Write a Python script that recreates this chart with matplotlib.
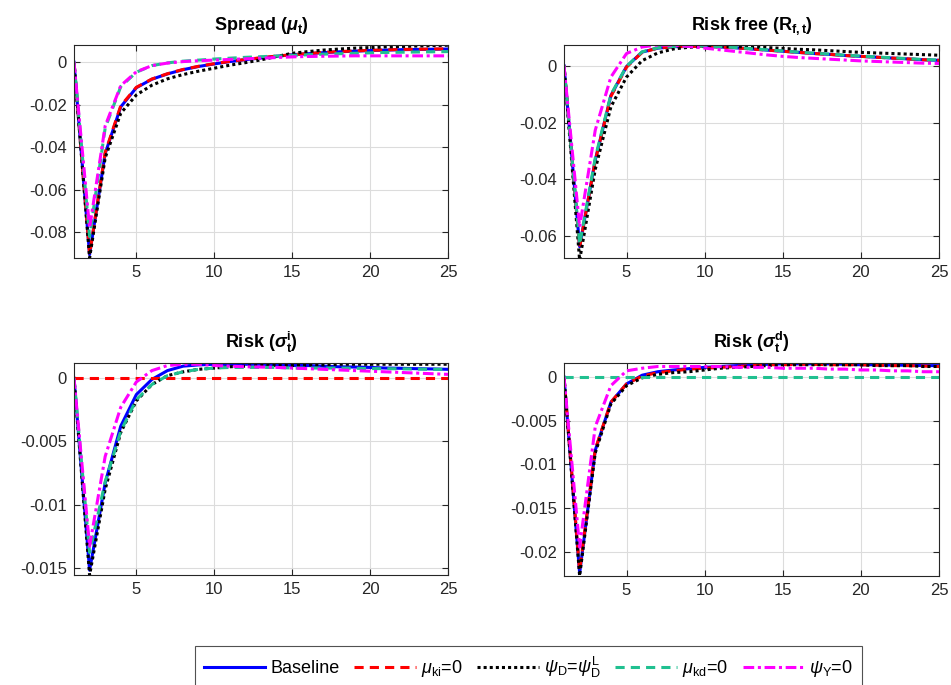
import matplotlib
matplotlib.use('Agg')
import matplotlib.pyplot as plt
import numpy as np

plt.rcParams['font.family'] = ['Liberation Sans', 'DejaVu Sans']
plt.rcParams['mathtext.fontset'] = 'custom'
plt.rcParams['mathtext.rm'] = 'Liberation Sans'
plt.rcParams['mathtext.it'] = 'Liberation Sans:italic'
plt.rcParams['mathtext.bf'] = 'Liberation Sans:bold'
plt.rcParams['mathtext.bfit'] = 'Liberation Sans:italic:bold'

periods = np.arange(1, 26)

labels = ['Baseline', r'$\mu_{\mathrm{ki}}$=0', r'$\psi_{\mathrm{D}}$=$\psi_{\mathrm{D}}^{\mathrm{L}}$',
          r'$\mu_{\mathrm{kd}}$=0', r'$\psi_{\mathrm{Y}}$=0']
titles = [r'Spread ($\mathbfit{\mu}_\mathbf{t}$)', r'Risk free ($\mathbf{R_{f,t}}$)',
          r'Risk ($\mathbfit{\sigma}_\mathbf{t}^\mathbf{i}$)', r'Risk ($\mathbfit{\sigma}_\mathbf{t}^\mathbf{d}$)']

# Spread (mu_t)
spread_base = [0, -0.0905, -0.043, -0.021, -0.012, -0.008, -0.0055, -0.0035, -0.002, -0.0008,
               0.0003, 0.0012, 0.002, 0.0028, 0.0035, 0.004, 0.0045, 0.0049, 0.0052, 0.0055,
               0.0057, 0.0059, 0.006, 0.0061, 0.0062]
spread_muki = [0, -0.0905, -0.0425, -0.0205, -0.0118, -0.0079, -0.0054, -0.0034, -0.0019, -0.0007,
               0.0004, 0.0013, 0.0021, 0.0029, 0.0035, 0.0041, 0.0046, 0.005, 0.0053, 0.0056,
               0.0058, 0.006, 0.0061, 0.0062, 0.0063]
spread_psid = [0, -0.0921, -0.045, -0.024, -0.0154, -0.0108, -0.0078, -0.0058, -0.0042, -0.0028,
               -0.0014, -0.0002, 0.0011, 0.0027, 0.0042, 0.005, 0.0057, 0.0062, 0.0066, 0.0069,
               0.0072, 0.0074, 0.0076, 0.0078, 0.008]
spread_mukd = [0, -0.082, -0.031, -0.0115, -0.0047, -0.0016, -0.0003, 0.0005, 0.001, 0.0015,
               0.0019, 0.0023, 0.0026, 0.0029, 0.0032, 0.0035, 0.0038, 0.004, 0.0042, 0.0044,
               0.0046, 0.0047, 0.0048, 0.0049, 0.005]
spread_psiy = [0, -0.078, -0.03, -0.011, -0.0045, -0.0016, -0.0004, 0.0003, 0.0007, 0.001,
               0.0013, 0.0016, 0.0019, 0.0022, 0.0025, 0.0027, 0.0028, 0.0029, 0.003, 0.003,
               0.003, 0.003, 0.003, 0.003, 0.003]

# Risk free (R_f,t)
rf_base = [0, -0.0637, -0.0332, -0.0105, -0.0003, 0.0048, 0.0062, 0.0067, 0.0068, 0.0068,
           0.0066, 0.0063, 0.0059, 0.0055, 0.0051, 0.0047, 0.0043, 0.004, 0.0036, 0.0033,
           0.003, 0.0027, 0.0024, 0.0021, 0.0019]
rf_muki = [0, -0.064, -0.0335, -0.0108, -0.0005, 0.0047, 0.0062, 0.0067, 0.0068, 0.0068,
           0.0066, 0.0063, 0.0059, 0.0055, 0.0051, 0.0047, 0.0043, 0.004, 0.0036, 0.0033,
           0.003, 0.0027, 0.0024, 0.0021, 0.0019]
rf_psid = [0, -0.0685, -0.0365, -0.0145, -0.004, 0.0018, 0.0045, 0.0059, 0.0065, 0.0068,
           0.0068, 0.0067, 0.0066, 0.0064, 0.0061, 0.0058, 0.0056, 0.0053, 0.005, 0.0047,
           0.0045, 0.0043, 0.0041, 0.0039, 0.0037]
rf_mukd = [0, -0.063, -0.0325, -0.0102, -0.0002, 0.0049, 0.0063, 0.0068, 0.0069, 0.0069,
           0.0067, 0.0064, 0.006, 0.0056, 0.0052, 0.0048, 0.0044, 0.0041, 0.0037, 0.0034,
           0.0031, 0.0028, 0.0025, 0.0022, 0.002]
rf_psiy = [0, -0.0567, -0.0227, -0.004, 0.0043, 0.0066, 0.0073, 0.0072, 0.0068, 0.0062,
           0.0056, 0.005, 0.0044, 0.0038, 0.0033, 0.0029, 0.0026, 0.0023, 0.002, 0.0017,
           0.0015, 0.0013, 0.0011, 0.0009, 0.0008]

# Risk (sigma^i_t)
si_base = [0, -0.0152, -0.0083, -0.0038, -0.0013, -0.0001, 0.0006, 0.00095, 0.00105, 0.0011,
           0.0011, 0.0011, 0.0011, 0.00105, 0.001, 0.001, 0.00095, 0.0009, 0.00088, 0.00085,
           0.0008, 0.00078, 0.00075, 0.00073, 0.0007]
si_muki = [0] * 25
si_psid = [0, -0.0156, -0.0088, -0.0043, -0.0018, -0.0005, 0.0002, 0.0005, 0.0007, 0.0008,
           0.0009, 0.00095, 0.001, 0.001, 0.001, 0.00105, 0.00105, 0.0011, 0.0011, 0.0011,
           0.0011, 0.0011, 0.0011, 0.0011, 0.0011]
si_mukd = [0, -0.0138, -0.0082, -0.0042, -0.0017, -0.0005, 0.0002, 0.0005, 0.0007, 0.0008,
           0.00085, 0.00085, 0.00085, 0.00085, 0.0008, 0.0008, 0.0008, 0.0008, 0.00078, 0.00076,
           0.00075, 0.00074, 0.00072, 0.0007, 0.0007]
si_psiy = [0, -0.0133, -0.0062, -0.0023, -0.0003, 0.0006, 0.001, 0.0011, 0.0011, 0.001,
           0.00095, 0.0009, 0.00088, 0.00085, 0.0008, 0.00075, 0.0007, 0.00065, 0.0006, 0.00055,
           0.0005, 0.00045, 0.0004, 0.00035, 0.0003]

# Risk (sigma^d_t)
sd_base = [0, -0.0225, -0.0084, -0.0029, -0.0008, 0.0002, 0.0006, 0.0008, 0.00095, 0.0011,
           0.0012, 0.0013, 0.0014, 0.00145, 0.0015, 0.0015, 0.0015, 0.0015, 0.00145, 0.0014,
           0.0014, 0.00135, 0.00135, 0.0013, 0.0013]
sd_muki = [0, -0.0222, -0.0083, -0.0029, -0.0008, 0.0001, 0.0005, 0.0007, 0.0009, 0.001,
           0.0011, 0.0012, 0.0013, 0.0014, 0.0014, 0.00145, 0.00145, 0.0014, 0.0014, 0.0014,
           0.00135, 0.0013, 0.0013, 0.00125, 0.0012]
sd_psid = [0, -0.0228, -0.0087, -0.0031, -0.001, -0.0001, 0.0003, 0.0005, 0.0006, 0.0008,
           0.001, 0.0011, 0.0012, 0.0013, 0.0014, 0.0014, 0.0014, 0.0014, 0.0014, 0.0014,
           0.0013, 0.0013, 0.0013, 0.0012, 0.0012]
sd_mukd = [0] * 25
sd_psiy = [0, -0.0195, -0.0057, -0.001, 0.0007, 0.001, 0.0012, 0.0012, 0.0012, 0.0012,
           0.0012, 0.0011, 0.0011, 0.0011, 0.001, 0.001, 0.001, 0.0009, 0.0009, 0.0008,
           0.0008, 0.0007, 0.0007, 0.0006, 0.0006]

panels = [
    [spread_base, spread_muki, spread_psid, spread_mukd, spread_psiy],
    [rf_base, rf_muki, rf_psid, rf_mukd, rf_psiy],
    [si_base, si_muki, si_psid, si_mukd, si_psiy],
    [sd_base, sd_muki, sd_psid, sd_mukd, sd_psiy],
]
ylims = [(-0.0921, 0.0081), (-0.0677, 0.0073), (-0.01558, 0.0012), (-0.0228, 0.0016)]
yticks = [[-0.08, -0.06, -0.04, -0.02, 0], [-0.06, -0.04, -0.02, 0],
          [-0.015, -0.01, -0.005, 0], [-0.02, -0.015, -0.01, -0.005, 0]]
ytick_labels = [['-0.08', '-0.06', '-0.04', '-0.02', '0'], ['-0.06', '-0.04', '-0.02', '0'],
                ['-0.015', '-0.01', '-0.005', '0'], ['-0.02', '-0.015', '-0.01', '-0.005', '0']]

colors = ['#0000ff', '#ff0000', '#000000', '#20c090', '#ff00ff']
styles = ['-', (0, (3, 2)), (0, (1, 1)), (0, (3, 2)), (0, (3.5, 1.2, 1, 1.2))]

fig = plt.figure(figsize=(9.51, 6.85), dpi=100)
positions = [
    [74 / 951, (685 - 258) / 685, 374 / 951, 213 / 685],
    [564 / 951, (685 - 258) / 685, 375 / 951, 213 / 685],
    [74 / 951, (685 - 575) / 685, 374 / 951, 212 / 685],
    [564 / 951, (685 - 576) / 685, 375 / 951, 213 / 685],
]

handles = []
for k, pos in enumerate(positions):
    ax = fig.add_axes(pos)
    for j, series in enumerate(panels[k]):
        h, = ax.plot(periods, series, color=colors[j], linestyle=styles[j], lw=2.2)
        if k == 0:
            handles.append(h)
    ax.set_xlim(1, 25)
    ax.set_ylim(*ylims[k])
    ax.set_xticks([5, 10, 15, 20, 25])
    ax.set_yticks(yticks[k])
    ax.set_yticklabels(ytick_labels[k])
    ax.grid(True, color='#dcdcdc', lw=0.8)
    ax.set_axisbelow(True)
    ax.tick_params(direction='in', length=4, top=True, right=True, labelsize=12,
                   colors='#262626', width=0.8, pad=5)
    for s in ax.spines.values():
        s.set_color('#262626')
        s.set_linewidth(0.8)
    ax.set_title(titles[k], fontsize=13, fontweight='bold', pad=11)

leg = fig.legend(handles, labels, loc='upper center', ncol=5,
                 bbox_to_anchor=(528.5 / 951, 1 - 646 / 685),
                 fontsize=13, frameon=True, fancybox=False, edgecolor='#262626',
                 handlelength=3.4, columnspacing=0.8, handletextpad=0.3, borderpad=0.5,
                 borderaxespad=0)
leg.get_frame().set_linewidth(0.8)

fig.savefig('out.png', dpi=100)
